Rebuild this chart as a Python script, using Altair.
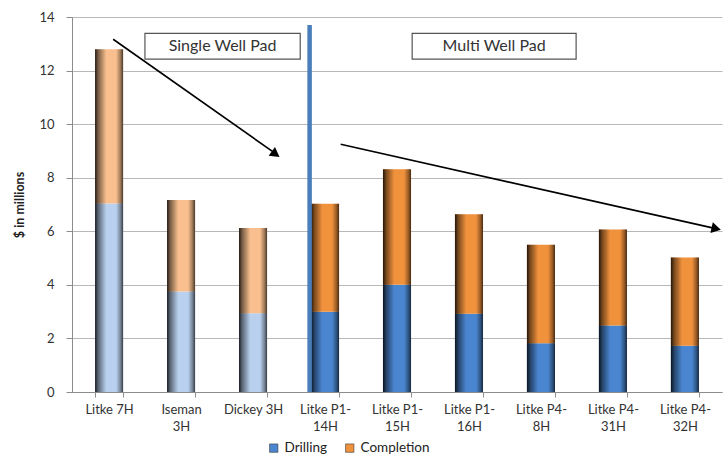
import altair as alt
import pandas as pd

# ---- data ----
wells = ["Litke 7H", "Iseman\n3H", "Dickey 3H", "Litke P1-\n14H", "Litke P1-\n15H",
         "Litke P1-\n16H", "Litke P4-\n8H", "Litke P4-\n31H", "Litke P4-\n32H"]
pad_type = ["single", "single", "single", "multi", "multi", "multi", "multi", "multi", "multi"]
drilling = [7.04, 3.75, 2.94, 3.00, 4.00, 2.92, 1.82, 2.48, 1.73]
completion = [5.76, 3.42, 3.18, 4.03, 4.32, 3.72, 3.68, 3.59, 3.29]

# annotation geometry in (category units 0..9, $ millions)
box_labels = ["Single Well Pad", "Multi Well Pad"]
box_x0 = [1.01, 4.71]
box_x1 = [3.16, 6.98]
box_y0 = [12.43, 12.43]
box_y1 = [13.39, 13.39]
arrow_x0 = [0.57, 3.72]
arrow_y0 = [13.17, 9.25]
arrow_x1 = [2.84, 8.93]
arrow_y1 = [8.86, 6.09]
head_x = [2.82, 8.92]
head_y = [8.88, 6.10]
head_angle = [35.6, 12.8]
divider_x = [3.29]
divider_top = [13.7]

FONT = "Lato"
TITLE = "$ in millions"

rows = []
for w, p, d, c in zip(wells, pad_type, drilling, completion):
    suffix = " " if p == "single" else ""
    rows.append(dict(well=w, key="Drilling" + suffix, y0=0.0, y1=d))
    rows.append(dict(well=w, key="Completion" + suffix, y0=d, y1=d + c))
seg = pd.DataFrame(rows)
tot = pd.DataFrame(dict(well=wells, total=[d + c for d, c in zip(drilling, completion)]))

xscale = alt.Scale(paddingInner=0.61, paddingOuter=0.32)
yscale = alt.Scale(domain=[0, 14], nice=False)

bars = alt.Chart(seg).mark_bar().encode(
    x=alt.X("well:N", sort=wells, scale=xscale,
            axis=alt.Axis(title=None, labelExpr="split(datum.label, '\\n')", labelAngle=0,
                          tickBand="extent", tickSize=5, labelPadding=6,
                          labelFontSize=13, labelColor="#333333", labelFont=FONT,
                          domainColor="#8c8c8c", tickColor="#8c8c8c", grid=False,
                          labelLineHeight=17)),
    y=alt.Y("y0:Q", scale=yscale, title=TITLE,
            axis=alt.Axis(values=[0, 2, 4, 6, 8, 10, 12, 14], format="d", tickSize=6,
                          labelPadding=12, labelFontSize=13, labelColor="#333333",
                          labelFont=FONT, titleFont=FONT, titleFontSize=12.5,
                          titleFontWeight="bold", titleColor="#222222", titlePadding=12,
                          grid=True, gridColor="#b8b8b8", domainColor="#8c8c8c",
                          tickColor="#8c8c8c")),
    y2="y1:Q",
    color=alt.Color("key:N",
                    scale=alt.Scale(domain=["Drilling", "Completion", "Drilling ", "Completion "],
                                    range=["#4a86cf", "#f0913c", "#b9d1ee", "#f9bf8e"]),
                    legend=alt.Legend(title=None, values=["Drilling", "Completion"],
                                      orient="none", direction="horizontal",
                                      legendX=195, legendY=424, padding=0,
                                      symbolType="square", symbolSize=70,
                                      symbolStrokeColor="#3a3a3a", symbolStrokeWidth=0.6,
                                      columnPadding=16,
                                      labelFontSize=13.5, labelFont=FONT,
                                      labelColor="#222222")),
)

shade_grad = alt.LinearGradient(
    gradient="linear", x1=0, x2=1, y1=0, y2=0,
    stops=[
        alt.GradientStop(offset=0.0, color="rgba(0,0,0,0.85)"),
        alt.GradientStop(offset=0.12, color="rgba(0,0,0,0.5)"),
        alt.GradientStop(offset=0.4, color="rgba(0,0,0,0)"),
        alt.GradientStop(offset=0.75, color="rgba(0,0,0,0)"),
        alt.GradientStop(offset=0.9, color="rgba(0,0,0,0.35)"),
        alt.GradientStop(offset=1.0, color="rgba(0,0,0,0.7)"),
    ],
)
shade = alt.Chart(tot).mark_bar(fill=shade_grad).encode(
    x=alt.X("well:N", sort=wells, scale=xscale),
    y=alt.Y("total:Q", scale=yscale, title=TITLE),
)

bar_layer = alt.layer(bars, shade)

ann_x = alt.Scale(domain=[0, 9], nice=False, zero=False)

divider = alt.Chart(pd.DataFrame(dict(x=divider_x, y=divider_top, y0=[0.0]))).mark_rule(
    color="#4a7ebb", strokeWidth=4.5).encode(
    x=alt.X("x:Q", scale=ann_x, axis=None),
    y=alt.Y("y0:Q", scale=yscale, title=TITLE),
    y2="y:Q",
)

boxdf = pd.DataFrame(dict(label=box_labels, x0=box_x0, x1=box_x1, y0=box_y0, y1=box_y1,
                          xc=[(a + b) / 2 for a, b in zip(box_x0, box_x1)],
                          yc=[(a + b) / 2 for a, b in zip(box_y0, box_y1)]))
boxes = alt.Chart(boxdf).mark_rect(fill="white", stroke="#555555", strokeWidth=1.2).encode(
    x=alt.X("x0:Q", scale=ann_x, axis=None), x2="x1:Q",
    y=alt.Y("y0:Q", scale=yscale, title=TITLE), y2="y1:Q",
)
box_text = alt.Chart(boxdf).mark_text(font=FONT, fontSize=16, color="#333333").encode(
    x=alt.X("xc:Q", scale=ann_x, axis=None),
    y=alt.Y("yc:Q", scale=yscale, title=TITLE),
    text="label:N",
)

arrdf = pd.DataFrame(dict(x0=arrow_x0, y0=arrow_y0, x1=arrow_x1, y1=arrow_y1))
arrows = alt.Chart(arrdf).mark_rule(color="black", strokeWidth=1.6).encode(
    x=alt.X("x0:Q", scale=ann_x, axis=None), x2="x1:Q",
    y=alt.Y("y0:Q", scale=yscale, title=TITLE), y2="y1:Q",
)
headdf = pd.DataFrame(dict(x=head_x, y=head_y, a=head_angle))
heads = alt.Chart(headdf).mark_point(shape="triangle-right", filled=True, color="black",
                                     size=120, opacity=1).encode(
    x=alt.X("x:Q", scale=ann_x, axis=None),
    y=alt.Y("y:Q", scale=yscale, title=TITLE),
    angle=alt.Angle("a:Q", scale=None),
)

ann_layer = alt.layer(divider, boxes, box_text, arrows, heads)

chart = alt.layer(bar_layer, ann_layer).resolve_scale(x="independent").properties(
    width=650, height=375,
    autosize=alt.AutoSizeParams(type="none"),
    padding={"left": 72, "top": 17, "right": 2, "bottom": 65},
    background="white",
).configure_view(stroke=None)

chart.save("out.html", embed_options={"renderer": "svg", "actions": False})
